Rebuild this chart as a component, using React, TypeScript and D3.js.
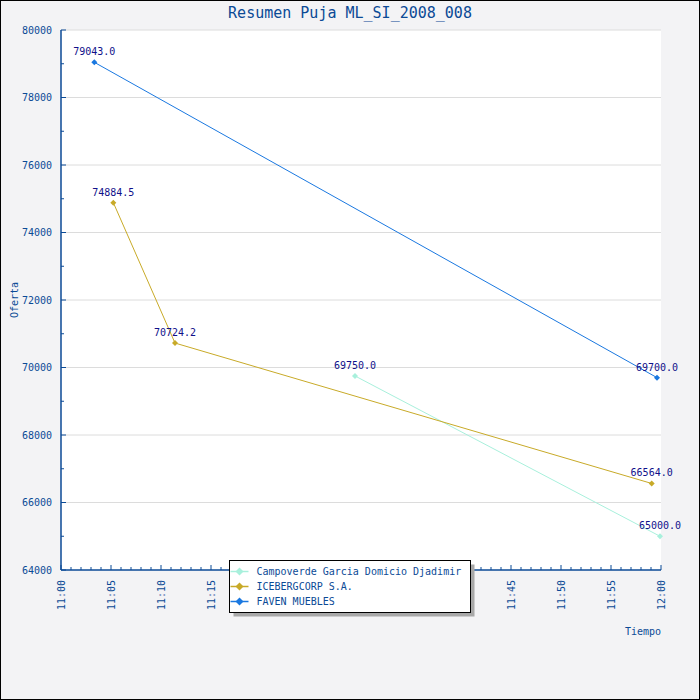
import * as d3 from 'd3';

const TITLE = 'Resumen Puja ML_SI_2008_008';
const SERIES_NAMES = ['Campoverde Garcia Domicio Djadimir', 'ICEBERGCORP S.A.', 'FAVEN MUEBLES'];
const SERIES_COLORS = ['#a8f0dc', '#c8aa28', '#1a78e0'];

const campoverdeTimes = ['11:29:24', '11:59:54'];
const campoverdeValues = [69750.0, 65000.0];
const icebergTimes = ['11:05:14', '11:11:24', '11:59:04'];
const icebergValues = [74884.5, 70724.2, 66564.0];
const favenTimes = ['11:03:20', '11:59:36'];
const favenValues = [79043.0, 69700.0];

const yTicks = [64000, 66000, 68000, 70000, 72000, 74000, 76000, 78000, 80000];
const xTickLabels = ['11:00', '11:05', '11:10', '11:15', '11:20', '11:25', '11:30', '11:35', '11:40', '11:45', '11:50', '11:55', '12:00'];

const W = 700;
const H = 700;
const margin = { top: 30, right: 39, bottom: 130, left: 61 };
const FONT = '"DejaVu Sans Mono", monospace';
const TEXT_BLUE = '#0b4a96';
const AXIS_BLUE = '#0b4a96';
const LABEL_NAVY = '#10108a';

const parseTime = d3.timeParse('%H:%M:%S');
const parseTick = d3.timeParse('%H:%M');

const series = [
  { times: campoverdeTimes, values: campoverdeValues },
  { times: icebergTimes, values: icebergValues },
  { times: favenTimes, values: favenValues },
].map((s, i) => ({
  name: SERIES_NAMES[i],
  color: SERIES_COLORS[i],
  points: s.times.map((t, j) => ({ t: parseTime(t) as Date, v: s.values[j] })),
}));

export default function App() {
  const innerW = W - margin.left - margin.right;
  const innerH = H - margin.top - margin.bottom;

  const x = d3.scaleTime()
    .domain([parseTick('11:00') as Date, parseTick('12:00') as Date])
    .range([margin.left, margin.left + innerW]);
  const y = d3.scaleLinear()
    .domain([64000, 80000])
    .range([margin.top + innerH, margin.top]);

  const line = d3.line<{ t: Date; v: number }>()
    .x(d => x(d.t))
    .y(d => y(d.v));

  const minorX = d3.range(0, 61).map(m => d3.timeMinute.offset(parseTick('11:00') as Date, m));
  const minorY = d3.range(64000, 80001, 1000);
  const diamond = (cx: number, cy: number, r: number) =>
    `M${cx},${cy - r}L${cx + r},${cy}L${cx},${cy + r}L${cx - r},${cy}Z`;

  const bottom = margin.top + innerH;
  const legendX = 229.5;
  const legendY = 560.5;

  return (
    <svg width={W} height={H} style={{ position: 'absolute', left: 0, top: 0 }} fontFamily={FONT}>
      <rect x={0.5} y={0.5} width={W - 1} height={H - 1} fill="#f3f3f5" stroke="#000" />
      <rect x={margin.left} y={margin.top} width={innerW} height={innerH} fill="#fff" />

      <text x={W / 2} y={18} textAnchor="middle" fontSize={15} fill={TEXT_BLUE}>{TITLE}</text>

      {/* horizontal grid */}
      {yTicks.slice(1).map(t => (
        <line key={'g' + t} x1={margin.left} x2={margin.left + innerW} y1={y(t)} y2={y(t)} stroke="#dcdcdc" />
      ))}

      {/* y axis */}
      <line x1={margin.left} x2={margin.left} y1={margin.top} y2={bottom} stroke={AXIS_BLUE} strokeWidth={1.5} />
      {minorY.map(t => (
        <line key={'yt' + t} x1={margin.left} x2={margin.left + (t % 2000 === 0 ? 5 : 3)} y1={y(t)} y2={y(t)} stroke={AXIS_BLUE} />
      ))}
      {yTicks.map(t => (
        <text key={'yl' + t} x={margin.left - 9} y={y(t)} dy="0.35em" textAnchor="end" fontSize={10} fill={TEXT_BLUE}>{t}</text>
      ))}
      <text transform={`translate(14,${margin.top + innerH / 2}) rotate(-90)`} dy="0.35em" textAnchor="middle" fontSize={10} fill={TEXT_BLUE}>Oferta</text>

      {/* x axis */}
      <line x1={margin.left} x2={margin.left + innerW} y1={bottom} y2={bottom} stroke={AXIS_BLUE} strokeWidth={1.5} />
      {minorX.map((t, i) => (
        <line key={'xt' + i} x1={x(t)} x2={x(t)} y1={bottom} y2={bottom - (i % 5 === 0 ? 5 : 3)} stroke={AXIS_BLUE} />
      ))}
      {xTickLabels.map(lbl => {
        const px = x(parseTick(lbl) as Date);
        return (
          <text key={'xl' + lbl} transform={`translate(${px},580) rotate(-90)`} dy="0.35em" textAnchor="end" fontSize={10} fill={TEXT_BLUE}>{lbl}</text>
        );
      })}
      <text x={margin.left + innerW} y={635} textAnchor="end" fontSize={10} fill={TEXT_BLUE}>Tiempo</text>

      {/* series */}
      {series.map(s => (
        <g key={s.name}>
          <path d={line(s.points) ?? ''} fill="none" stroke={s.color} strokeWidth={1} />
          {s.points.map((p, j) => (
            <path key={j} d={diamond(x(p.t), y(p.v), 3)} fill={s.color} />
          ))}
        </g>
      ))}
      {series.map(s =>
        s.points.map((p, j) => (
          <text key={s.name + 'l' + j} x={x(p.t)} y={y(p.v) - 7} textAnchor="middle" fontSize={10} fill={LABEL_NAVY}>
            {p.v.toFixed(1)}
          </text>
        ))
      )}

      {/* legend */}
      <rect x={legendX + 4} y={legendY + 4} width={241} height={52} fill="#a8a8a8" />
      <rect x={legendX} y={legendY} width={241} height={52} fill="#fff" stroke="#000" />
      {series.map((s, i) => {
        const cy = legendY + 11 + i * 15;
        return (
          <g key={'lg' + s.name}>
            <line x1={legendX + 1} x2={legendX + 19} y1={cy} y2={cy} stroke={s.color} strokeWidth={1.5} />
            <path d={diamond(legendX + 10, cy, 4)} fill={s.color} />
            <text x={legendX + 27} y={cy} dy="0.35em" fontSize={10} fill={TEXT_BLUE}>{s.name}</text>
          </g>
        );
      })}
    </svg>
  );
}
